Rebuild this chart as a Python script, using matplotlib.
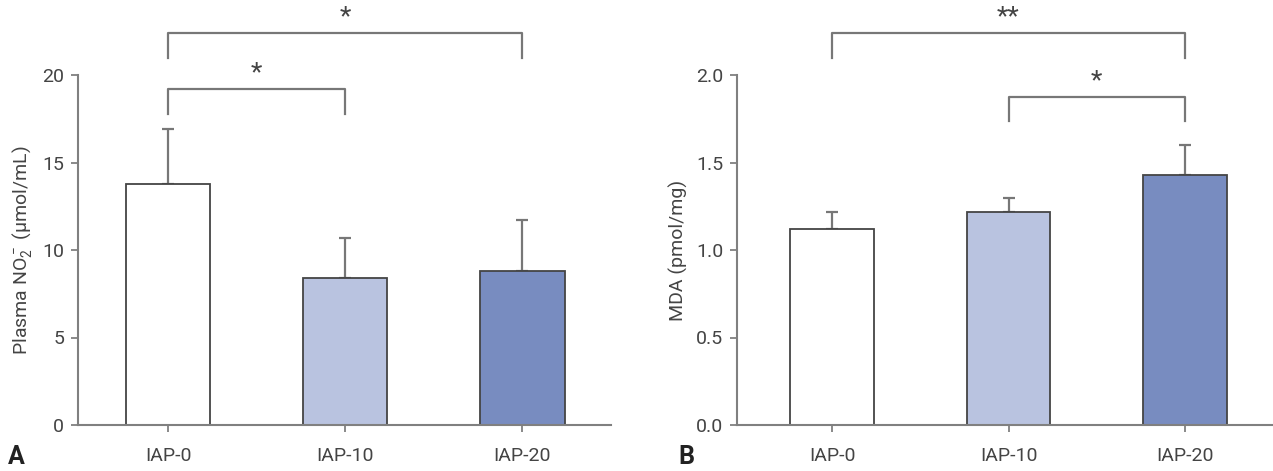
import matplotlib
matplotlib.use("Agg")
import matplotlib.pyplot as plt
import numpy as np

plt.rcParams["font.family"] = ["Roboto", "DejaVu Sans"]
plt.rcParams["mathtext.fontset"] = "custom"
plt.rcParams["mathtext.rm"] = "Roboto"
plt.rcParams["mathtext.it"] = "Roboto"

groups = ["IAP-0", "IAP-10", "IAP-20"]
no2_mean = [13.75, 8.4, 8.8]
no2_err = [3.15, 2.3, 2.9]
mda_mean = [1.12, 1.22, 1.43]
mda_err = [0.10, 0.08, 0.17]

# (start, end, bar top, leg bottom, label)
no2_sig = [(0, 2, 22.4, 21.0, "*"), (0, 1, 19.2, 17.8, "*")]
mda_sig = [(0, 2, 2.24, 2.10, "**"), (1, 2, 1.874, 1.74, "*")]

COLORS = ["#ffffff", "#b9c3e0", "#788cc0"]
EDGE = "#444444"
AXIS = "#808080"
TEXT = "#444444"

fig = plt.figure(figsize=(12.73, 4.71), dpi=100)
ax1 = fig.add_axes([78 / 1273, 1 - 425 / 471, (611 - 78) / 1273, 350 / 471])
ax2 = fig.add_axes([737 / 1273, 1 - 425 / 471, (1273 - 737) / 1273, 350 / 471])


def draw(ax, means, errs, sig, ylim, yticks, fmt, ylabel, xlim):
    x = np.arange(len(groups))
    ax.bar(x, means, width=0.475, color=COLORS, edgecolor=EDGE, linewidth=1.3, zorder=2)
    ax.errorbar(x, means, yerr=[np.zeros(len(errs)), errs], fmt="none",
                ecolor="#777777", elinewidth=1.6, capsize=4.5, capthick=1.6, zorder=1)
    ax.set_xlim(*xlim)
    ax.set_ylim(*ylim)
    ax.set_yticks(yticks)
    ax.set_yticklabels([fmt % v for v in yticks])
    ax.set_xticks(x)
    ax.set_xticklabels(groups)
    for s in ["top", "right"]:
        ax.spines[s].set_visible(False)
    for s in ["left", "bottom"]:
        ax.spines[s].set_color(AXIS)
        ax.spines[s].set_linewidth(1.5)
    ax.tick_params(axis="both", colors=AXIS, labelcolor=TEXT, labelsize=14,
                   length=5, width=1.3)
    ax.tick_params(axis="x", pad=11)
    ax.tick_params(axis="y", pad=5)
    ax.set_ylabel(ylabel, fontsize=14, color=TEXT, labelpad=6)
    rng = ylim[1] - ylim[0]
    for a, b, top, leg, label in sig:
        ax.plot([a, a, b, b], [leg, top, top, leg], color="#777777", lw=1.6,
                clip_on=False)
        ax.text((a + b) / 2, top + rng * 0.012, label,
                ha="center", va="bottom", fontsize=19, color="#444444",
                clip_on=False)


draw(ax1, no2_mean, no2_err, no2_sig, (0, 20), [0, 5, 10, 15, 20], "%d",
     r"Plasma NO$_2^-$ (μmol/mL)", (-0.51, 2.5))
draw(ax2, mda_mean, mda_err, mda_sig, (0, 2.0), [0.0, 0.5, 1.0, 1.5, 2.0], "%.1f",
     "MDA (pmol/mg)", (-0.54, 2.5))

fig.text(8 / 1273, 1 - 457 / 471, "A", fontsize=18, fontweight="bold",
         color="#222222", va="center", ha="left")
fig.text(678 / 1273, 1 - 457 / 471, "B", fontsize=18, fontweight="bold",
         color="#222222", va="center", ha="left")

fig.savefig("out.png", dpi=100)
